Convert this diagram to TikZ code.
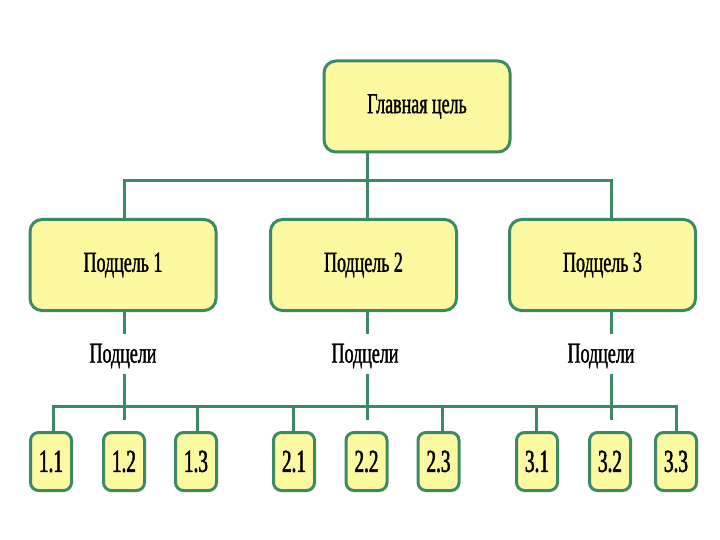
\documentclass[tikz,border=0pt]{standalone}
\usepackage{fontspec}
\newfontfamily\cf[FakeStretch=0.62,FakeBold=1.2]{Liberation Serif}
\newfontfamily\cfd[FakeStretch=0.6,FakeBold=1.6]{Liberation Serif}
\definecolor{gline}{RGB}{58,138,102}
\definecolor{yfill}{RGB}{253,249,160}
\begin{document}
\begin{tikzpicture}[x=1pt,y=-1pt,
  bigbox/.style={draw=gline, fill=yfill, line width=3pt, rounded corners=12pt,
    minimum width=186pt, minimum height=91pt, inner sep=0pt,
    font=\cf\fontsize{29}{32}\selectfont},
  smallbox/.style={draw=gline, fill=yfill, line width=3pt, rounded corners=8pt,
    minimum width=41pt, minimum height=58pt, inner sep=0pt,
    font=\cfd\fontsize{32}{34}\selectfont},
  lbl/.style={inner sep=0pt, font=\cf\fontsize{29}{32}\selectfont},
  conn/.style={draw=gline, line width=3pt}]
\useasboundingbox (0,0) rectangle (720,540);
\fill[white] (0,0) rectangle (720,540);
% nodes
\node[bigbox] (main) at (417,106.5) {Главная цель};
\node[bigbox] (s1) at (123,265) {Подцель 1};
\node[bigbox] (s2) at (363.5,265) {Подцель 2};
\node[bigbox] (s3) at (602.5,265) {Подцель 3};
\node[lbl] (l1) at (123,356) {Подцели};
\node[lbl] (l2) at (365,356) {Подцели};
\node[lbl] (l3) at (601,356) {Подцели};
\node[smallbox] (a1) at (51,461.5) {1.1};
\node[smallbox] (a2) at (124,461.5) {1.2};
\node[smallbox] (a3) at (196,461.5) {1.3};
\node[smallbox] (b1) at (294,461.5) {2.1};
\node[smallbox] (b2) at (366.5,461.5) {2.2};
\node[smallbox] (b3) at (438.5,461.5) {2.3};
\node[smallbox] (c1) at (537,461.5) {3.1};
\node[smallbox] (c2) at (610,461.5) {3.2};
\node[smallbox] (c3) at (676,461.5) {3.3};
% bus coordinates
\coordinate (tbL) at (124,181);
\coordinate (tbM) at (367,181);
\coordinate (tbR) at (611,181);
\coordinate (bbL) at (53,406);
\coordinate (bbR) at (676,406);
\coordinate (e1) at (124,420);
\coordinate (e2) at (367,420);
\coordinate (e3) at (611,420);
% top connectors
\draw[conn] (main.south -| tbM) -- (s2.north -| tbM);
\draw[conn] (s1.north -| tbL) -- (tbL) -- (tbR) -- (s3.north -| tbR);
% sub to labels
\draw[conn] (s1.south -| tbL) -- ++(0,22);
\draw[conn] (s2.south -| tbM) -- ++(0,22);
\draw[conn] (s3.south -| tbR) -- ++(0,22);
\draw[conn] (l1.south -| e1) ++(0,6) -- (e1);
\draw[conn] (l2.south -| e2) ++(0,6) -- (e2);
\draw[conn] (l3.south -| e3) ++(0,6) -- (e3);
% bottom bus
\draw[conn] (a1.north -| bbL) -- (bbL) -- (bbR) -- (c3.north -| bbR);
\draw[conn] (a3.north -| 197,0) -- (197,406);
\draw[conn] (b1.north -| 293,0) -- (293,406);
\draw[conn] (b3.north -| 442,0) -- (442,406);
\draw[conn] (c1.north -| 536,0) -- (536,406);
\end{tikzpicture}
\end{document}
